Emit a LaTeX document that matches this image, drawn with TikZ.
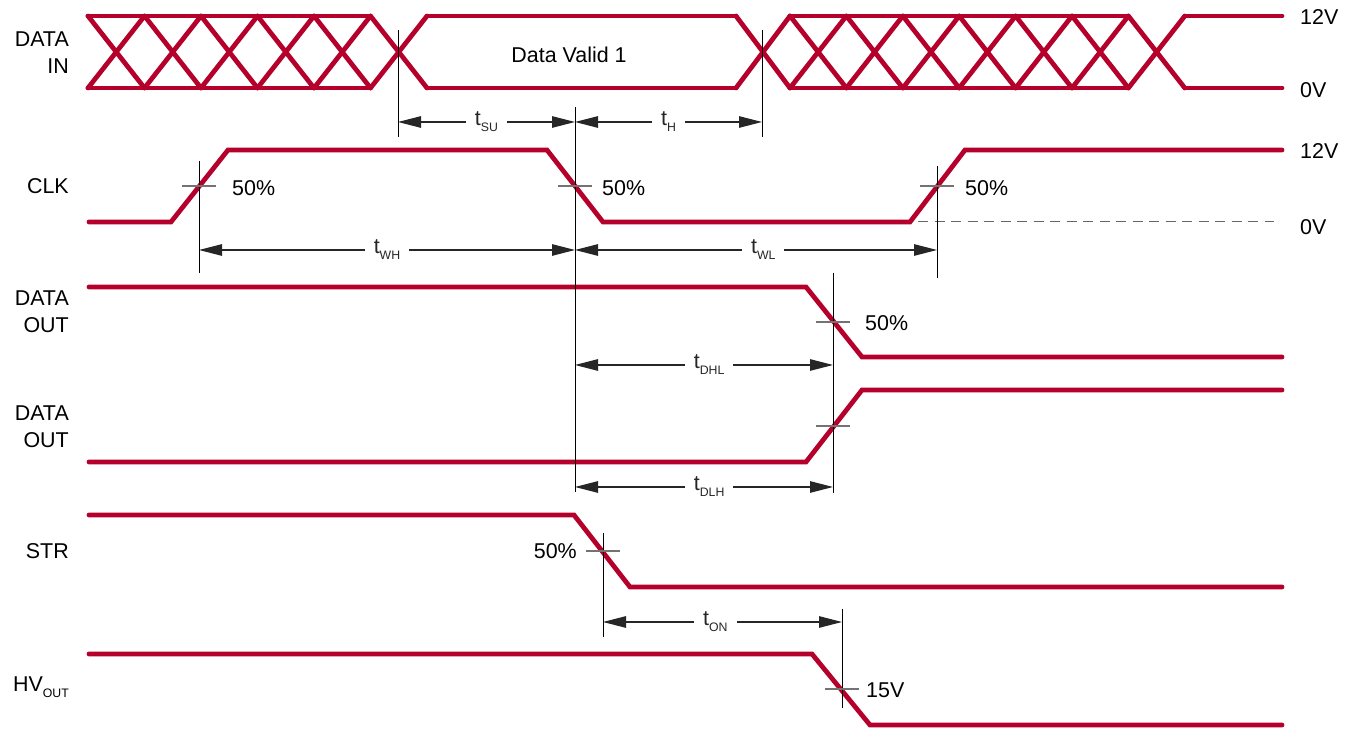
\documentclass[tikz,border=0pt]{standalone}
\usepackage{fontspec}
\setmainfont{Liberation Sans}
\usepackage{xcolor}
\usetikzlibrary{arrows.meta}
\definecolor{sigred}{RGB}{180,0,42}
\newcommand{\tsb}[2]{#1\raisebox{-3.4pt}{\fontsize{7}{8}\selectfont #2}}

\begin{document}
\begin{tikzpicture}[x=0.2mm,y=-0.2mm,
    font=\fontsize{12.2}{15.5}\selectfont,
    sig/.style={line width=0.95mm, sigred, line cap=round},
    vline/.style={line width=0.2mm, black},
    crossmark/.style={line width=0.3mm, black!55},
    dimline/.style={line width=0.22mm, black!85,
      {Triangle[length=4.6mm,width=2.3mm]}-{Triangle[length=4.6mm,width=2.3mm]}},
    tlabel/.style={fill=white, inner xsep=1.8mm, inner ysep=0.4mm},
    signame/.style={anchor=east, align=right}]
    \useasboundingbox (0,0) rectangle (1352,729);

    % signal names
    \node[signame] (nin) at (75,53) {DATA\\IN};
    \node[signame] (nclk) at (75,186) {CLK};
    \node[signame] (nout1) at (75,312) {DATA\\OUT};
    \node[signame] (nout2) at (75,427) {DATA\\OUT};
    \node[signame] (nstr) at (75,551) {STR};
    \node[signame] (nhv) at (75,687) {\tsb{HV}{OUT}};

    % levels
    \node[anchor=west] (lin1) at (1294,17) {12V};
    \node[anchor=west] (lin0) at (1294,90) {0V};
    \node[anchor=west] (lclk1) at (1294,151) {12V};
    \node[anchor=west] (lclk0) at (1294,227) {0V};

    % DATA IN
    \draw[sig] (88,16) -- (370,16) (427,16) -- (736,16) (790,16) -- (1128,16) (1185,16) -- (1282,16);
    \draw[sig] (88,88) -- (370,88) (427,88) -- (736,88) (790,88) -- (1128,88) (1185,88) -- (1282,88);
    \foreach \i in {0,...,5}
      \draw[sig] ({88+56.5*\i},16) -- ({144.5+56.5*\i},88) ({88+56.5*\i},88) -- ({144.5+56.5*\i},16);
    \draw[sig] (736,16) -- (790,88) (736,88) -- (790,16);
    \foreach \i in {0,...,6}
      \draw[sig] ({790+56.4*\i},16) -- ({846.4+56.4*\i},88) ({790+56.4*\i},88) -- ({846.4+56.4*\i},16);
    \node (valid) at (569,55) {Data Valid 1};

    % CLK
    \draw[sig] (89,222) -- (171,222) -- (228,150) -- (547,150) -- (603,222) -- (910,222) -- (965,150) -- (1282,150);
    \draw[black!60, line width=0.2mm, dash pattern=on 2mm off 1.3mm] (918,222) -- (1274,222);

    % DATA OUT
    \draw[sig] (89,287) -- (806,287) -- (862,357) -- (1282,357);
    \draw[sig] (89,462) -- (806,462) -- (862,390) -- (1282,390);

    % STR and HV out
    \draw[sig] (89,515) -- (574,515) -- (630,587) -- (1282,587);
    \draw[sig] (89,654) -- (812,654) -- (870,725) -- (1282,725);

    % reference lines
    \draw[vline] (398,30) -- (398,137);
    \draw[vline] (762,30) -- (762,137);
    \draw[vline] (575,107) -- (575,492);
    \draw[vline] (199,161) -- (199,273);
    \draw[vline] (937,166) -- (937,278);
    \draw[vline] (833,273) -- (833,493);
    \draw[vline] (603,533) -- (603,637);
    \draw[vline] (842,609) -- (842,708);

    \foreach \x/\y in {199/186, 575/186, 937/186, 833/322, 833/426, 603/551, 842/689}
      \draw[crossmark] (\x-17,\y) -- (\x+17,\y);

    \node[anchor=west] (p1) at (226,188) {50\%};
    \node[anchor=west] (p2) at (596,188) {50\%};
    \node[anchor=west] (p3) at (959,188) {50\%};
    \node[anchor=west] (p4) at (859,323) {50\%};
    \node[anchor=east] (p5) at (583,551) {50\%};
    \node[anchor=west] (p6) at (860,690) {15V};

    % timing
    \coordinate (su) at (398,122);
    \coordinate (clkf) at (575,122);
    \coordinate (ho) at (762,122);
    \coordinate (wh0) at (199,250);
    \coordinate (wh1) at (575,250);
    \coordinate (wl1) at (937,250);
    \coordinate (dhl0) at (575,365);
    \coordinate (dhl1) at (833,365);
    \coordinate (dlh0) at (575,487);
    \coordinate (dlh1) at (833,487);
    \coordinate (on0) at (603,622);
    \coordinate (on1) at (842,622);

    \draw[dimline] (su) -- node[tlabel] {\tsb{t}{SU}} (clkf);
    \draw[dimline] (clkf) -- node[tlabel] {\tsb{t}{H}} (ho);
    \draw[dimline] (wh0) -- node[tlabel] {\tsb{t}{WH}} (wh1);
    \draw[dimline] (wh1) -- node[tlabel, pos=0.52] {\tsb{t}{WL}} (wl1);
    \draw[dimline] (dhl0) -- node[tlabel, pos=0.52] {\tsb{t}{DHL}} (dhl1);
    \draw[dimline] (dlh0) -- node[tlabel, pos=0.52] {\tsb{t}{DLH}} (dlh1);
    \draw[dimline] (on0) -- node[tlabel, pos=0.47] {\tsb{t}{ON}} (on1);
  \end{tikzpicture}
\end{document}
